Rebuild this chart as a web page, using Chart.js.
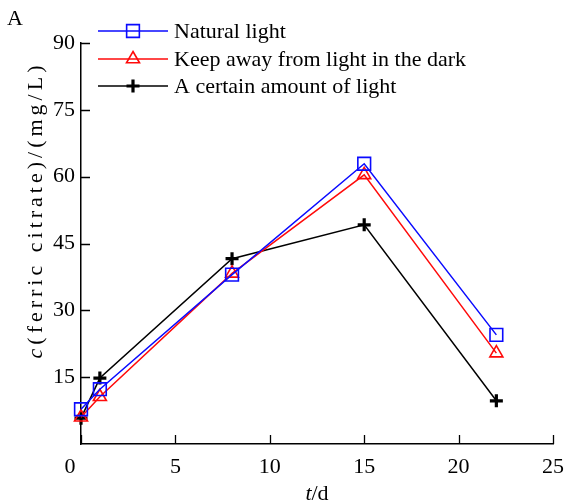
<!DOCTYPE html>
<html>
<head>
<meta charset="utf-8">
<script src="https://cdn.jsdelivr.net/npm/chart.js@4"></script>
<style>
  html, body { margin: 0; padding: 0; background: #fff; }
  #wrap { width: 566px; height: 503px; }
</style>
</head>
<body>
<div id="wrap"><canvas id="grafico" width="566" height="503"></canvas></div>
<script>
// dados
const tempos = [0, 1, 8, 15, 22];
const luzNatural = [7.8, 12.3, 38.0, 62.9, 24.5];
const escuro = [6.0, 10.6, 38.3, 60.4, 20.4];
const luzCerta = [5.8, 14.8, 41.6, 49.2, 9.7];
const nomes = ["Natural light", "Keep away from light in the dark", "A certain amount of light"];
const ticksX = [0, 5, 10, 15, 20, 25];
const ticksY = [15, 30, 45, 60, 75, 90];

const fonte = "'Liberation Serif', 'Times New Roman', serif";

function pontos(valores) {
  return tempos.map((t, i) => ({ x: t, y: valores[i] }));
}

// ticks para dentro, títulos dos eixos, legenda e letra A
const extras = {
  id: "extras",
  afterDraw(chart) {
    const ctx = chart.ctx;
    const area = chart.chartArea;
    const sx = chart.scales.x;
    const sy = chart.scales.y;
    ctx.save();
    ctx.strokeStyle = "#000";
    ctx.lineWidth = 1.3;
    ctx.beginPath();
    sx.ticks.forEach(t => {
      const px = Math.round(sx.getPixelForValue(t.value)) + 0.5;
      ctx.moveTo(px, area.bottom);
      ctx.lineTo(px, area.bottom - 9);
    });
    sy.ticks.forEach(t => {
      const py = Math.round(sy.getPixelForValue(t.value)) + 0.5;
      ctx.moveTo(area.left, py);
      ctx.lineTo(area.left + 9, py);
    });
    ctx.stroke();

    ctx.fillStyle = "#000";
    ctx.textBaseline = "alphabetic";

    // título eixo x
    const cx = (area.left + area.right) / 2;
    ctx.font = "italic 22px " + fonte;
    const wT = ctx.measureText("t").width;
    ctx.font = "22px " + fonte;
    const wD = ctx.measureText("/d").width;
    let x0 = cx - (wT + wD) / 2;
    ctx.textAlign = "left";
    ctx.font = "italic 22px " + fonte;
    ctx.fillText("t", x0, 500);
    ctx.font = "22px " + fonte;
    ctx.fillText("/d", x0 + wT, 500);

    // título eixo y (texto espaçado como no original)
    ctx.save();
    ctx.translate(42, 210);
    ctx.rotate(-Math.PI / 2);
    ctx.letterSpacing = "4px";
    ctx.font = "italic 22px " + fonte;
    const wC = ctx.measureText("c").width;
    ctx.font = "22px " + fonte;
    const resto = "(ferric citrate)/(mg/L)";
    const wR = ctx.measureText(resto).width;
    x0 = -(wC + wR) / 2;
    ctx.font = "italic 22px " + fonte;
    ctx.fillText("c", x0, 0);
    ctx.font = "22px " + fonte;
    ctx.fillText(resto, x0 + wC, 0);
    ctx.restore();

    // letra do painel
    ctx.font = "22px " + fonte;
    ctx.fillText("A", 7, 25);

    // legenda
    const linhasY = [31, 59, 86];
    chart.data.datasets.forEach((ds, i) => {
      const y = linhasY[i];
      ctx.strokeStyle = ds.borderColor;
      ctx.lineWidth = ds.borderWidth;
      ctx.beginPath();
      ctx.moveTo(98, y);
      ctx.lineTo(168, y);
      ctx.stroke();
      ctx.fillStyle = ds.pointBackgroundColor;
      ctx.strokeStyle = ds.pointBorderColor;
      ctx.lineWidth = ds.pointBorderWidth;
      Chart.helpers.drawPoint(ctx, {
        pointStyle: ds.pointStyle,
        radius: ds.pointRadius,
        borderWidth: ds.pointBorderWidth,
        rotation: 0
      }, 133, y);
      ctx.fillStyle = "#000";
      ctx.textBaseline = "middle";
      ctx.textAlign = "left";
      ctx.font = "22px " + fonte;
      ctx.fillText(ds.label, 174, y + 1);
    });
    ctx.restore();
  }
};

new Chart(document.getElementById("grafico").getContext("2d"), {
  type: "line",
  data: {
    datasets: [
      {
        label: nomes[0],
        data: pontos(luzNatural),
        borderColor: "#0a0aff",
        borderWidth: 1.5,
        pointStyle: "rect",
        pointRadius: 9,
        pointBorderWidth: 1.6,
        pointBorderColor: "#0a0aff",
        pointBackgroundColor: "rgba(0,0,0,0)",
        tension: 0,
        clip: false
      },
      {
        label: nomes[1],
        data: pontos(escuro),
        borderColor: "#ff0a0a",
        borderWidth: 1.5,
        pointStyle: "triangle",
        pointRadius: 7.5,
        pointBorderWidth: 1.6,
        pointBorderColor: "#ff0a0a",
        pointBackgroundColor: "rgba(0,0,0,0)",
        tension: 0,
        clip: false
      },
      {
        label: nomes[2],
        data: pontos(luzCerta),
        borderColor: "#000",
        borderWidth: 1.5,
        pointStyle: "cross",
        pointRadius: 6.5,
        pointBorderWidth: 3.2,
        pointBorderColor: "#000",
        pointBackgroundColor: "#000",
        tension: 0,
        clip: false
      }
    ]
  },
  options: {
    responsive: false,
    animation: false,
    layout: { padding: { top: 43, right: 0, left: 0, bottom: 0 } },
    plugins: {
      legend: { display: false },
      tooltip: { enabled: false }
    },
    scales: {
      x: {
        type: "linear",
        min: 0,
        max: 25,
        afterBuildTicks: s => { s.ticks = ticksX.map(v => ({ value: v })); },
        afterFit: s => { s.height = 59; s.paddingLeft = 0; s.paddingRight = 13; },
        grid: { display: false, drawTicks: false },
        border: { display: true, color: "#000", width: 1.5 },
        ticks: {
          color: "#000",
          padding: 10,
          maxRotation: 0,
          font: { family: fonte, size: 22 },
          callback: v => (v === 0 ? "0\u2002\u2002" : String(v))
        }
      },
      y: {
        type: "linear",
        min: 0,
        max: 90,
        afterBuildTicks: s => { s.ticks = ticksY.map(v => ({ value: v })); },
        afterFit: s => { s.width = 81; },
        grid: { display: false, drawTicks: false },
        border: { display: true, color: "#000", width: 1.5 },
        ticks: {
          color: "#000",
          padding: 6,
          font: { family: fonte, size: 22 }
        }
      }
    }
  },
  plugins: [extras]
});
</script>
</body>
</html>
